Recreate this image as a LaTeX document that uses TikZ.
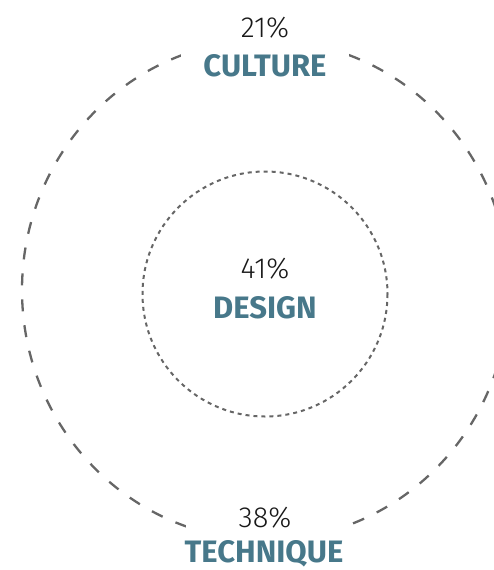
\documentclass[tikz,border=0pt]{standalone}
\usepackage{fontspec}
\setmainfont{Fira Sans}
\newfontfamily\pctfont{Fira Sans Light}
\usetikzlibrary{positioning}
\definecolor{ringgray}{HTML}{666666}
\definecolor{areateal}{HTML}{47788A}
\begin{document}
\begin{tikzpicture}[
            x=1pt, y=-1pt,
            outerring/.style={draw=ringgray, line width=2.3pt, dash pattern=on 12pt off 14pt},
            innerring/.style={draw=ringgray, line width=2pt, dash pattern=on 4pt off 4pt},
            pct/.style={anchor=base, inner sep=0pt, text=black!90, font=\pctfont\fontsize{29}{29}\selectfont},
            area/.style={anchor=base, inner sep=0pt, text=areateal, font=\bfseries\fontsize{31}{31}\selectfont}
        ]
        \useasboundingbox (0,0) rectangle (494,570);

        % Rings
        \draw[outerring] (265.5,290) ellipse [x radius=243.5, y radius=250];
        \draw[innerring] (265,294) circle [radius=122.5];

        % Outer ring labels
        \node[area, fill=white, inner xsep=22pt, inner ysep=18pt] (culture) at (265,76) {CULTURE};
        \node[pct] (pctculture) at (265,37) {21\%};
        \node[pct, fill=white, inner xsep=53pt, inner ysep=14pt] (pcttechnique) at (265,527) {38\%};
        \node[area] (technique) at (264,562) {TECHNIQUE};

        % Inner ring labels
        \node[pct] (pctdesign) at (265,278) {41\%};
        \node[area] (design) at (265,318) {DESIGN};

    \end{tikzpicture}
\end{document}
